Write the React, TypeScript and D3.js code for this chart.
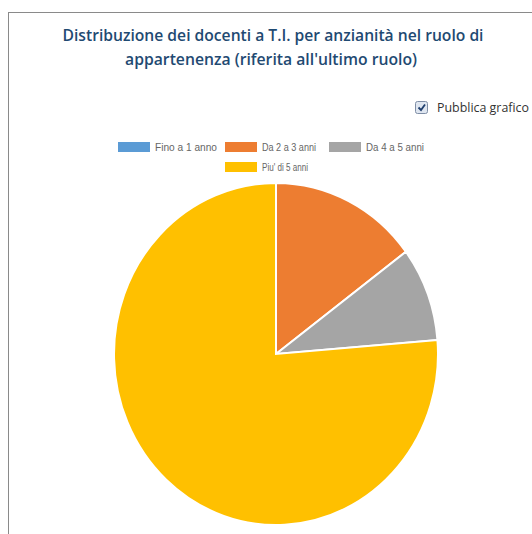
import React from "react";
import * as d3 from "d3";

const titleLines = [
  "Distribuzione dei docenti a T.I. per anzianità nel ruolo di",
  "appartenenza (riferita all'ultimo ruolo)",
];
const categories = ["Fino a 1 anno", "Da 2 a 3 anni", "Da 4 a 5 anni", "Piu' di 5 anni"];
const values = [0, 14.8, 8.9, 76.3];
const colors = ["#5B9BD5", "#ED7D31", "#A5A5A5", "#FFC000"];
const checkboxLabel = "Pubblica grafico";

const W = 532;
const H = 534;

export default function App() {
  const cx = 276;
  const cy = 354;
  const ry = 171;
  const rx = 162;
  const data = categories.map((c, i) => ({ c, v: values[i], col: colors[i] }));
  const pie = d3.pie<any>().value((d) => d.v).sort(null).startAngle(0).endAngle(2 * Math.PI);
  const arc = d3.arc<any>().innerRadius(0).outerRadius(ry);
  const arcs = pie(data);

  const legendRows = [
    [
      { i: 0, x: 118, w: 62 },
      { i: 1, x: 225, w: 54 },
      { i: 2, x: 329, w: 58 },
    ],
    [{ i: 3, x: 225, w: 46 }],
  ];
  const rowY = [147, 167];

  return (
    <svg
      width={W}
      height={H}
      style={{ position: "absolute", left: 0, top: 0, background: "#fff" }}
    >
      <rect x={0} y={0} width={W} height={H} fill="#fff" />
      <rect x={8.5} y={12.5} width={W + 20} height={H + 20} fill="none" stroke="#8a8a8a" strokeWidth={1} />
      <text
        x={273}
        y={41}
        textAnchor="middle"
        fill="#1f4a72"
        fontFamily="'Open Sans', sans-serif"
        fontWeight={600}
        fontSize={17}
        textLength={421}
        lengthAdjust="spacingAndGlyphs"
      >
        {titleLines[0]}
      </text>
      <text
        x={271}
        y={65}
        textAnchor="middle"
        fill="#1f4a72"
        fontFamily="'Open Sans', sans-serif"
        fontWeight={600}
        fontSize={17}
        textLength={292}
        lengthAdjust="spacingAndGlyphs"
      >
        {titleLines[1]}
      </text>

      <g>
        <rect x={415.5} y={101.5} width={12} height={12} rx={2} fill="#dfe6f0" stroke="#7f8ea6" strokeWidth={1} />
        <path d="M418.5 107.5 L421 110 L425 104.5" fill="none" stroke="#1f3f6e" strokeWidth={1.8} />
        <text
          x={437}
          y={112}
          fill="#333"
          fontFamily="'Open Sans', sans-serif"
          fontSize={12}
          textLength={92}
          lengthAdjust="spacingAndGlyphs"
        >
          {checkboxLabel}
        </text>
      </g>

      {legendRows.map((row, r) =>
        row.map(({ i, x, w }) => (
          <g key={categories[i]}>
            <rect x={x} y={rowY[r] - 5} width={32} height={10} fill={colors[i]} />
            <text
              x={x + 37}
              y={rowY[r] + 4}
              fill="#666"
              fontFamily="'Liberation Sans', Arial, sans-serif"
              fontSize={10.5}
              textLength={w}
              lengthAdjust="spacingAndGlyphs"
            >
              {categories[i]}
            </text>
          </g>
        ))
      )}

      <g transform={`translate(${cx},${cy}) scale(${rx / ry},1)`}>
        {arcs
          .filter((a) => a.data.v > 0)
          .map((a) => (
            <path
              key={a.data.c}
              d={arc(a) as string}
              fill={a.data.col}
              stroke="#fff"
              strokeWidth={2}
              vectorEffect="non-scaling-stroke"
            />
          ))}
      </g>
    </svg>
  );
}
